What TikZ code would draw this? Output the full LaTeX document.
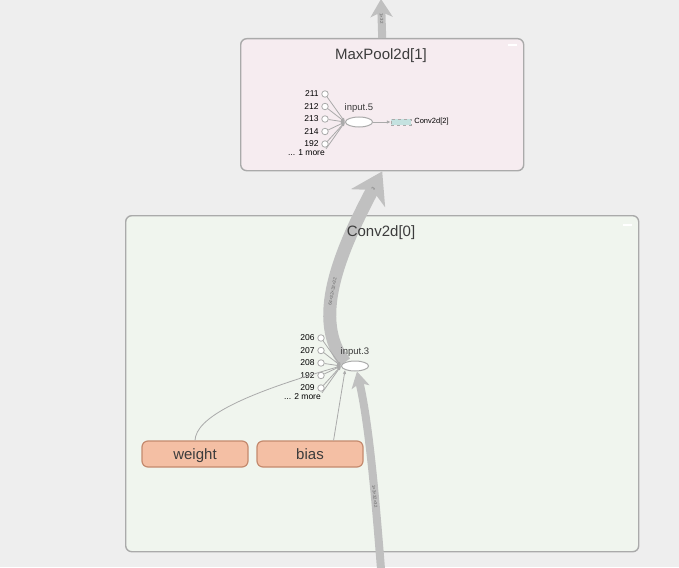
\documentclass[tikz,border=0pt]{standalone}
\usepackage{fontspec}
\setmainfont{Liberation Sans}
\usetikzlibrary{arrows.meta,calc,positioning,shapes.geometric}
\definecolor{tbbg}{RGB}{238,238,238}
\definecolor{tbpool}{RGB}{246,236,240}
\definecolor{tbconv}{RGB}{240,245,238}
\definecolor{tbedge}{RGB}{170,170,170}
\definecolor{tbflow}{RGB}{192,192,192}
\definecolor{tbtext}{RGB}{60,60,60}
\definecolor{tbparam}{RGB}{244,191,164}
\definecolor{tbparamln}{RGB}{196,138,110}
\definecolor{tbteal}{RGB}{196,226,224}
\pgfdeclarelayer{back}
\pgfdeclarelayer{mid}
\pgfsetlayers{back,mid,main}
\begin{document}
\begin{tikzpicture}[x=1pt,y=-1pt,font=\small,text=tbtext,
      group/.style={draw=tbedge,line width=1.4pt,rounded corners=6pt,anchor=north west},
      gtitle/.style={font=\fontsize{15}{17}\selectfont},
      inpt/.style={circle,draw=tbedge,fill=white,line width=0.8pt,inner sep=0pt,minimum size=6.5pt},
      numlab/.style={font=\fontsize{8.5}{9}\selectfont,text=black,inner sep=1pt},
      op/.style={ellipse,draw=tbedge,fill=white,line width=1pt,inner sep=0pt,minimum width=27pt,minimum height=10pt},
      oplab/.style={font=\fontsize{9.5}{10}\selectfont,inner sep=0pt},
      param/.style={draw=tbparamln,fill=tbparam,line width=1.2pt,rounded corners=6pt,minimum width=106pt,minimum height=26pt,
        text height=12pt,text depth=1pt,font=\fontsize{15}{17}\selectfont},
      wire/.style={draw=tbedge,line width=0.8pt,-{Latex[length=4pt,width=3.5pt]}},
      flow/.style={draw=tbflow,line width=8pt},
      elab/.style={font=\fontsize{4.5}{5}\selectfont,text=black!60,sloped,inner sep=0pt}]
      \useasboundingbox (0,0) rectangle (679,567);
      \begin{pgfonlayer}{back}
        \fill[tbbg] (0,0) rectangle (679,567);
        \node[group,fill=tbpool,minimum width=283pt,minimum height=132pt] (pool) at (240,38) {};
        \node[group,fill=tbconv,minimum width=513pt,minimum height=336pt] (conv) at (125,215) {};
      \end{pgfonlayer}
      % MaxPool2d[1]
      \node[gtitle] (pooltitle) at (381,56) {MaxPool2d[1]};
      \draw[white,line width=1.5pt] (508,45) -- (517,45);
      \node[op] (in5) at (359,122) {};
      \node[oplab,above=4pt of in5] (in5lab) {input.5};
      \foreach \lab [count=\i] in {211,212,213,214,192} {
        \node[inpt] (a\i) at (325,{81.5+12.5*\i}) {};
        \node[numlab,left=1.5pt of a\i] {\lab};
        \draw[wire] (a\i) -- (in5.west);
      }
      \node[numlab,anchor=east] (amore) at (326,153) {... 1 more};
      \draw[wire] (amore.north east) -- (in5.west);
      \node[draw=tbedge,dashed,fill=tbteal,minimum width=20pt,minimum height=6pt,inner sep=0pt] (next) at (401,122) {};
      \node[numlab,right=2pt of next,font=\fontsize{7.5}{8}\selectfont] (nextlab) {Conv2d[2]};
      \draw[wire] (in5.east) -- (next.west);
      % Conv2d[0]
      \node[gtitle] (convtitle) at (381,233) {Conv2d[0]};
      \draw[white,line width=1.5pt] (623,225) -- (632,225);
      \node[op] (in3) at (355,366) {};
      \node[oplab,above=4pt of in3] (in3lab) {input.3};
      \foreach \lab [count=\i] in {206,207,208,192,209} {
        \node[inpt] (b\i) at (321,{325.5+12.5*\i}) {};
        \node[numlab,left=1.5pt of b\i] {\lab};
        \draw[wire] (b\i) -- (in3.west);
      }
      \node[numlab,anchor=east] (bmore) at (322,397) {... 2 more};
      \draw[wire] (bmore.north east) -- (in3.west);
      \node[param] (weight) at (195,454) {weight};
      \node[param] (bias) at (310,454) {bias};
      \draw[wire] (weight.north) .. controls (196,418) and (240,395) .. (in3.west);
      \draw[wire] (bias.30) -- (in3.south west);
      % data flow
      \coordinate (src) at (381,569);
      \coordinate (out) at (381,-1);
      \begin{pgfonlayer}{mid}
        \draw[flow,-{Stealth[length=16pt,width=18pt,inset=4pt]}] (src) .. controls (374,480) and (368,420) .. (in3.-70)
          node[elab,pos=0.3] {1×3×32×32};
        \draw[flow,line width=13pt,-{Stealth[length=30pt,width=38pt,inset=9pt]}] (in3.160) .. controls (312,320) and (338,255) .. (pool.south)
          node[elab,pos=0.45] {64×32×32×32}
          node[elab,pos=0.93] {2};
        \draw[flow,-{Stealth[length=18pt,width=22pt,inset=5pt]}] (pool.north) -- (out)
          node[elab,pos=0.5] {1×32};
      \end{pgfonlayer}
    \end{tikzpicture}
\end{document}
